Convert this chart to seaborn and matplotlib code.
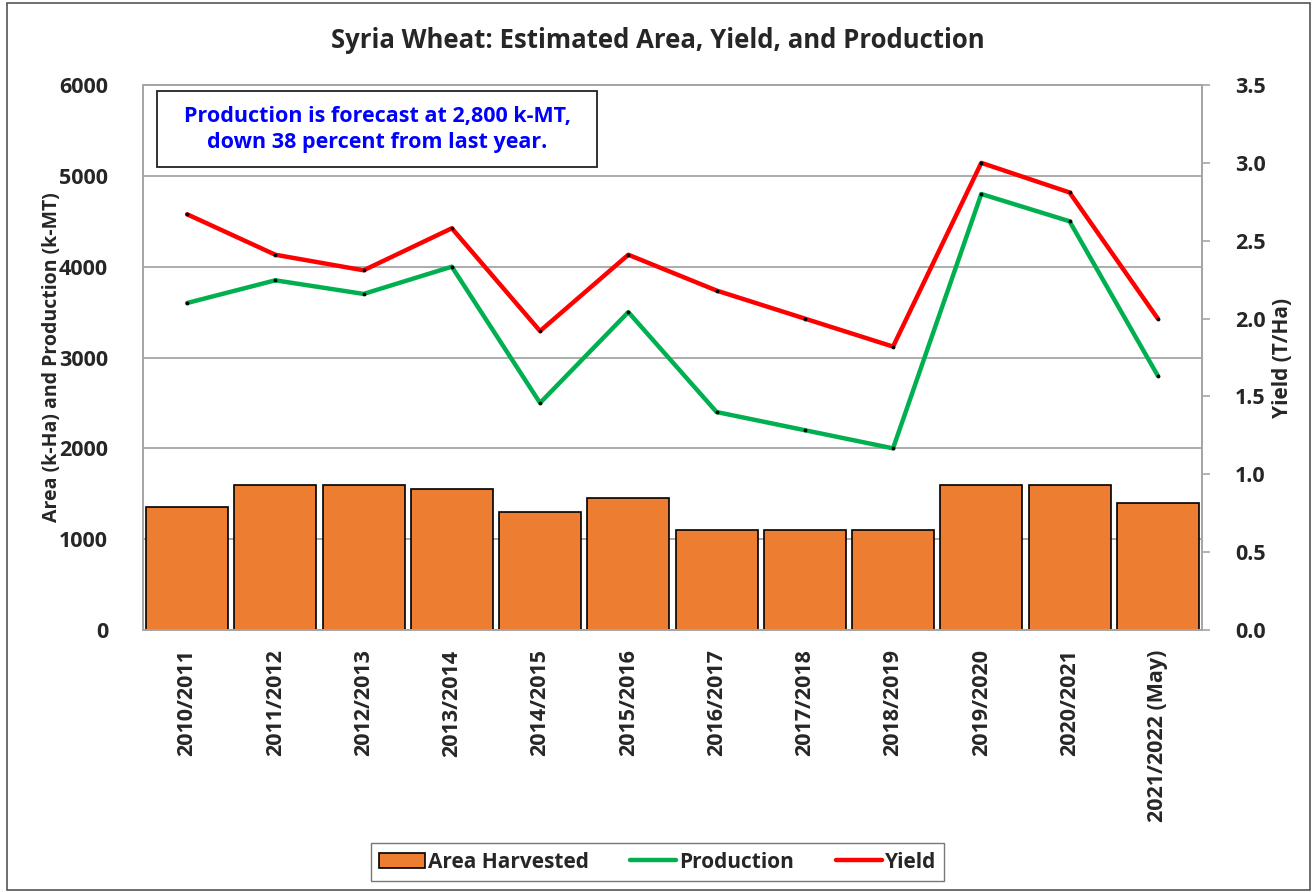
import matplotlib.pyplot as plt
import numpy as np
import seaborn as sns
from matplotlib.patches import Rectangle, Patch
from matplotlib.lines import Line2D

years = ['2010/2011', '2011/2012', '2012/2013', '2013/2014', '2014/2015', '2015/2016',
         '2016/2017', '2017/2018', '2018/2019', '2019/2020', '2020/2021', '2021/2022 (May)']
area = [1350, 1600, 1600, 1550, 1300, 1450, 1100, 1100, 1100, 1600, 1600, 1400]
production = [3600, 3850, 3700, 4000, 2500, 3500, 2400, 2200, 2000, 4800, 4500, 2800]
yield_tha = [2.67, 2.41, 2.31, 2.58, 1.92, 2.41, 2.18, 2.00, 1.82, 3.00, 2.81, 2.00]

orange = '#ED7D31'
green = '#00B050'
red = '#FF0000'
grid_gray = '#A6A6A6'

sns.set_theme(style='white')
plt.rcParams['font.family'] = ['Open Sans', 'DejaVu Sans']
plt.rcParams['font.weight'] = 'bold'

fig = plt.figure(figsize=(13.15, 8.92), dpi=100)
ax = fig.add_axes([0.1087, 0.2937, 0.8053, 0.611])

sns.barplot(x=years, y=area, color=orange, saturation=1, width=0.93,
            edgecolor='black', linewidth=1.2, ax=ax, zorder=2)
x = np.arange(len(years))
sns.lineplot(x=x, y=production, ax=ax, color=green, linewidth=3.2,
             marker='o', markersize=2, markerfacecolor='black',
             markeredgecolor='black', zorder=3)

ax2 = ax.twinx()
sns.lineplot(x=x, y=yield_tha, ax=ax2, color=red, linewidth=3.2,
             marker='o', markersize=2, markerfacecolor='black',
             markeredgecolor='black', zorder=3)

# left axis
ax.set_ylim(0, 6000)
ax.set_yticks(range(0, 6001, 1000))
ax.set_xlim(-0.5, len(years) - 0.5)
ax.yaxis.grid(True, color=grid_gray, linewidth=1.3, zorder=0)
ax.set_axisbelow(True)
for s in ax.spines.values():
    s.set_color(grid_gray)
    s.set_linewidth(1.3)
ax.tick_params(axis='y', left=False, right=False, labelsize=15.5, pad=19)
ax.tick_params(axis='x', bottom=False, labelsize=15.5, pad=8)
ax.set_xticks(x)
ax.set_xticklabels(years, rotation=90, fontweight='bold')
for lab in ax.get_yticklabels():
    lab.set_fontweight('bold')
ax.set_ylabel('Area (k-Ha) and Production (k-MT)', fontsize=14, fontweight='bold')
ax.yaxis.set_label_coords(-0.0765, 0.5)
ax.set_xlabel('')

# right axis
ax2.set_ylim(0, 3.5)
ax2.set_yticks(np.arange(0, 3.51, 0.5))
ax2.set_yticklabels(['%.1f' % v for v in np.arange(0, 3.51, 0.5)], fontweight='bold')
ax2.tick_params(axis='y', right=True, length=6, width=1.2, color=grid_gray,
                labelsize=15.5, pad=18)
for s in ax2.spines.values():
    s.set_color(grid_gray)
    s.set_linewidth(1.3)
ax2.set_ylabel('Yield (T/Ha)', fontsize=15, fontweight='bold')
ax2.yaxis.set_label_coords(1.066, 0.5)

fig.text(0.5, 0.955, 'Syria Wheat: Estimated Area, Yield, and Production',
         ha='center', va='center', fontsize=18.5, fontweight='bold')

ax2.add_patch(Rectangle((0.1194, 0.8128), 0.3346, 0.0852, transform=fig.transFigure,
                        facecolor='white', edgecolor='#222222', linewidth=1.3, zorder=4,
                        clip_on=False))
ax2.text(0.2867, 0.855, 'Production is forecast at 2,800 k-MT,\ndown 38 percent from last year.',
         transform=fig.transFigure, ha='center', va='center', fontsize=15.5,
         fontweight='bold', color='#0000FF', linespacing=1.3, zorder=5)

handles = [Patch(facecolor=orange, edgecolor='black', linewidth=1.2),
           Line2D([], [], color=green, linewidth=3.2),
           Line2D([], [], color=red, linewidth=3.2)]
leg = fig.legend(handles, ['Area Harvested', 'Production', 'Yield'], loc='center',
                 bbox_to_anchor=(0.5, 0.0336), ncol=3, fontsize=15, frameon=True,
                 fancybox=False, edgecolor='#555555', handlelength=2.2,
                 handletextpad=0.15, columnspacing=2.0, borderpad=0.4, borderaxespad=0.5)
leg.get_frame().set_linewidth(1.0)
for t in leg.get_texts():
    t.set_fontweight('bold')
if ax.get_legend():
    ax.get_legend().remove()
if ax2.get_legend():
    ax2.get_legend().remove()

fig.patches.append(Rectangle((0.005, 0.002), 0.991, 0.995, transform=fig.transFigure,
                             fill=False, edgecolor='#555555', linewidth=1.2))

fig.savefig('out.png', dpi=100)
